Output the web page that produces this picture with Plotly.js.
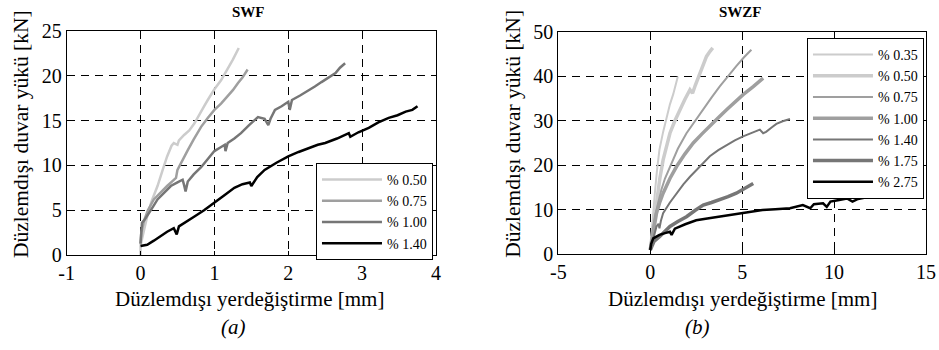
<!DOCTYPE html>
<html>
<head>
<meta charset="utf-8">
<script src="https://cdn.plot.ly/plotly-3.0.1.min.js"></script>
<style>html,body{margin:0;padding:0;background:#fff;}#chart{width:939px;height:350px;}</style>
</head>
<body>
<div id="chart"></div>
<script>
// ---------- SWF (a) ----------
const swf050_x = [0, 0.00, 0.02, 0.05, 0.09, 0.15, 0.23, 0.30, 0.36, 0.42, 0.45, 0.50, 0.52, 0.59, 0.66, 0.73, 0.80, 0.86, 0.91, 1.00, 1.09, 1.17, 1.25, 1.33];
const swf050_y = [0, 1.0, 1.8, 3.0, 4.3, 6.0, 7.7, 9.5, 11.0, 12.2, 12.5, 12.3, 12.8, 13.4, 13.9, 14.7, 15.8, 16.6, 17.3, 18.5, 19.5, 20.6, 21.8, 23.1];

const swf075_x = [0, 0.01, 0.05, 0.10, 0.18, 0.27, 0.36, 0.44, 0.48, 0.50, 0.56, 0.64, 0.72, 0.82, 0.91, 1.00, 1.09, 1.18, 1.25, 1.32, 1.38, 1.45];
const swf075_y = [1.2, 2.5, 3.9, 5.0, 6.2, 7.0, 7.7, 8.3, 8.6, 9.5, 10.5, 11.7, 12.9, 14.3, 15.3, 16.2, 16.9, 17.7, 18.4, 19.2, 19.8, 20.7];

const swf100_x = [0, 0.01, 0.02, 0.06, 0.11, 0.17, 0.23, 0.32, 0.41, 0.50, 0.57, 0.59, 0.61, 0.64, 0.72, 0.82, 0.91, 1.00, 1.08, 1.14, 1.15, 1.18, 1.27, 1.36, 1.47, 1.59, 1.68, 1.73, 1.76, 1.82, 1.91, 2.00, 2.02, 2.05, 2.16, 2.27, 2.36, 2.45, 2.55, 2.64, 2.70, 2.77];
const swf100_y = [1.3, 2.5, 3.6, 4.0, 4.7, 5.4, 6.2, 7.0, 7.7, 8.1, 8.4, 7.8, 7.1, 8.2, 9.0, 9.8, 10.7, 11.6, 12.0, 12.3, 11.6, 12.5, 13.0, 13.6, 14.5, 15.4, 15.2, 14.5, 15.2, 16.2, 16.6, 17.1, 16.2, 17.3, 17.8, 18.3, 18.8, 19.3, 19.8, 20.3, 20.9, 21.4];

const swf140_x = [0, 0.09, 0.18, 0.27, 0.36, 0.45, 0.49, 0.52, 0.62, 0.73, 0.86, 1.00, 1.14, 1.27, 1.38, 1.48, 1.50, 1.58, 1.68, 1.84, 2.00, 2.14, 2.27, 2.40, 2.50, 2.66, 2.82, 2.84, 2.95, 3.09, 3.22, 3.36, 3.48, 3.59, 3.68, 3.75];
const swf140_y = [1.0, 1.15, 1.6, 2.1, 2.6, 3.0, 2.3, 3.2, 3.7, 4.3, 5.0, 5.8, 6.7, 7.5, 7.9, 8.1, 7.7, 8.7, 9.5, 10.3, 11.0, 11.5, 11.9, 12.3, 12.5, 13.0, 13.6, 13.2, 13.7, 14.2, 14.8, 15.3, 15.6, 16.0, 16.2, 16.6];

// ---------- SWZF (b) ----------
const swzf035_x = [0, 0.1, 0.25, 0.37, 0.5, 0.7, 0.9, 1.07, 1.25, 1.38, 1.5];
const swzf035_y = [0.9, 7, 13.7, 19, 23.5, 27.5, 31, 33.7, 36, 38, 40];

const swzf050_x = [0, 0.15, 0.34, 0.52, 0.7, 0.88, 1.07, 1.34, 1.61, 1.88, 2.16, 2.3, 2.45, 2.7, 2.88, 3.06, 3.24, 3.4];
const swzf050_y = [0.9, 6, 12.2, 17, 21.2, 24.5, 27.2, 30, 32.5, 34.8, 37, 36.2, 38, 40.7, 42.5, 44.5, 45.6, 46.4];

const swzf075_x = [0, 0.1, 0.25, 0.42, 0.6, 0.8, 1.07, 1.5, 1.97, 2.43, 2.88, 3.33, 3.77, 4.23, 4.68, 5.1, 5.5];
const swzf075_y = [0.9, 4.5, 8.4, 11.5, 14.4, 17, 19.7, 23.7, 27.2, 30, 32.5, 35.2, 37.7, 40.1, 42.3, 44.3, 46];

const swzf100_x = [0, 0.15, 0.34, 0.52, 0.7, 1.07, 1.43, 1.88, 2.34, 2.8, 3.24, 3.7, 4.15, 4.6, 5.05, 5.6, 6.14];
const swzf100_y = [0.9, 5, 9.2, 11.7, 13.7, 17, 19.7, 22.5, 25, 27, 28.7, 30.7, 32.5, 34.3, 35.9, 37.7, 39.6];

const swzf140_x = [0, 0.15, 0.34, 0.45, 0.5, 0.58, 0.7, 1.07, 1.43, 1.8, 2.16, 2.7, 3.24, 3.7, 4.15, 4.6, 5.05, 5.5, 5.96, 6.14, 6.3, 6.6, 6.86, 7.2, 7.6];
const swzf140_y = [0.9, 3.5, 6.2, 6.8, 5.8, 7.5, 9.2, 11.6, 13.7, 15.7, 17.4, 19.8, 22, 23.4, 24.6, 25.6, 26.5, 27.3, 28, 27.2, 27.5, 28.5, 29.3, 29.9, 30.4];

const swzf175_x = [0, 0.2, 0.5, 0.8, 1.07, 1.5, 1.97, 2.43, 2.88, 3.33, 3.77, 4.23, 4.68, 5.15, 5.6];
const swzf175_y = [0.9, 2.8, 3.9, 5.2, 6.2, 7.3, 8.4, 9.8, 11, 11.6, 12.2, 12.9, 13.7, 14.8, 15.9];

const swzf275_x = [0, 0.05, 0.16, 0.3, 0.5, 0.8, 1.07, 1.16, 1.34, 1.9, 2.5, 3.1, 3.77, 4.3, 4.86, 5.5, 6.1, 6.8, 7.6, 8.3, 8.7, 8.9, 9.4, 9.6, 9.8, 10.2, 10.7, 11.0, 11.3, 11.7];
const swzf275_y = [0.9, 2.3, 3.5, 3.9, 4.3, 4.7, 5.0, 4.3, 5.7, 6.7, 7.6, 8.0, 8.4, 8.8, 9.2, 9.5, 9.9, 10.1, 10.3, 11.0, 10.3, 11.2, 11.4, 10.6, 11.8, 12.1, 12.5, 11.8, 12.4, 12.7];

const swfNames = ['% 0.50', '% 0.75', '% 1.00', '% 1.40'];
const swzfNames = ['% 0.35', '% 0.50', '% 0.75', '% 1.00', '% 1.40', '% 1.75', '% 2.75'];
const xTicksA = [-1, 0, 1, 2, 3, 4];
const xTickTextA = ['-1', '0', '1', '2', '3', '4'];
const xTicksB = [-5, 0, 5, 10, 15];
const xTickTextB = ['-5', '0', '5', '10', '15'];

const SERIF = 'Liberation Serif';
const C_LIGHT = '#cccccc', C_MID = '#9f9f9f', C_DARK = '#767676', C_BLACK = '#000000';

function tr(x, y, name, color, width, xa, ya, leg) {
  return {x: x, y: y, name: name, type: 'scatter', mode: 'lines',
    line: {color: color, width: width}, xaxis: xa, yaxis: ya, legend: leg, hoverinfo: 'skip'};
}

const data = [
  tr(swf050_x, swf050_y, swfNames[0], C_LIGHT, 2.5, 'x', 'y', 'legend'),
  tr(swf075_x, swf075_y, swfNames[1], C_MID, 2.5, 'x', 'y', 'legend'),
  tr(swf100_x, swf100_y, swfNames[2], C_DARK, 2.5, 'x', 'y', 'legend'),
  tr(swf140_x, swf140_y, swfNames[3], C_BLACK, 2.5, 'x', 'y', 'legend'),
  tr(swzf035_x, swzf035_y, swzfNames[0], C_LIGHT, 2, 'x2', 'y2', 'legend2'),
  tr(swzf050_x, swzf050_y, swzfNames[1], C_LIGHT, 3.5, 'x2', 'y2', 'legend2'),
  tr(swzf075_x, swzf075_y, swzfNames[2], C_MID, 2, 'x2', 'y2', 'legend2'),
  tr(swzf100_x, swzf100_y, swzfNames[3], C_MID, 3.5, 'x2', 'y2', 'legend2'),
  tr(swzf140_x, swzf140_y, swzfNames[4], C_DARK, 2, 'x2', 'y2', 'legend2'),
  tr(swzf175_x, swzf175_y, swzfNames[5], C_DARK, 3.5, 'x2', 'y2', 'legend2'),
  tr(swzf275_x, swzf275_y, swzfNames[6], C_BLACK, 2.5, 'x2', 'y2', 'legend2')
];

const axBase = {
  showline: true, linecolor: '#000', linewidth: 1, mirror: 'ticks',
  ticks: 'inside', ticklen: 4, tickcolor: '#000', tickwidth: 1,
  showgrid: true, gridcolor: '#000', gridwidth: 1, griddash: '8px,6px',
  zeroline: false, tickfont: {family: SERIF, size: 20, color: '#000'},
  fixedrange: true
};

const legBase = {
  font: {family: SERIF, size: 14, color: '#000'}, bgcolor: '#fff',
  bordercolor: '#000', borderwidth: 1, xanchor: 'left', yanchor: 'top',
  itemwidth: 60, tracegroupgap: 0
};

function ann(text, x, y, size, extra) {
  return Object.assign({text: text, x: x, y: y, xref: 'paper', yref: 'paper',
    showarrow: false, xanchor: 'center', yanchor: 'middle',
    font: {family: SERIF, size: size, color: '#000'}}, extra || {});
}

const layout = {
  width: 939, height: 350, margin: {l: 0, r: 0, t: 0, b: 0},
  font: {family: SERIF},
  paper_bgcolor: '#fff', plot_bgcolor: '#fff', showlegend: true,
  xaxis: Object.assign({}, axBase, {domain: [0.0710, 0.4643], range: [-1, 4], tickvals: xTicksA, ticktext: xTickTextA, anchor: 'y'}),
  yaxis: Object.assign({}, axBase, {domain: [0.2714, 0.9114], range: [0, 25], dtick: 5, anchor: 'x'}),
  xaxis2: Object.assign({}, axBase, {domain: [0.5946, 0.9862], range: [-5, 15], tickvals: xTicksB, ticktext: xTickTextB, anchor: 'y2'}),
  yaxis2: Object.assign({}, axBase, {domain: [0.2743, 0.9086], range: [0, 50], dtick: 10, anchor: 'x2'}),
  legend: Object.assign({}, legBase, {x: 0.3365, y: 0.5343}),
  legend2: Object.assign({}, legBase, {x: 0.8594, y: 0.8914}),
  annotations: [
    ann('<b>SWF</b>', 0.2647, 0.9657, 15),
    ann('<b>SWZF</b>', 0.7881, 0.9657, 15),
    ann('Düzlemdışı yerdeğiştirme [mm]', 0.2652, 0.1457, 21),
    ann('Düzlemdışı yerdeğiştirme [mm]', 0.7909, 0.1457, 21),
    ann('<i>(a)</i>', 0.2492, 0.0657, 21),
    ann('<i>(b)</i>', 0.7423, 0.0657, 21),
    ann('Düzlemdışı duvar yükü [kN]', 0.0224, 0.617, 21.5, {textangle: -90}),
    ann('Düzlemdışı duvar yükü [kN]', 0.546, 0.617, 21.5, {textangle: -90})
  ]
};

Plotly.newPlot('chart', data, layout, {displayModeBar: false, staticPlot: true});
</script>
</body>
</html>
